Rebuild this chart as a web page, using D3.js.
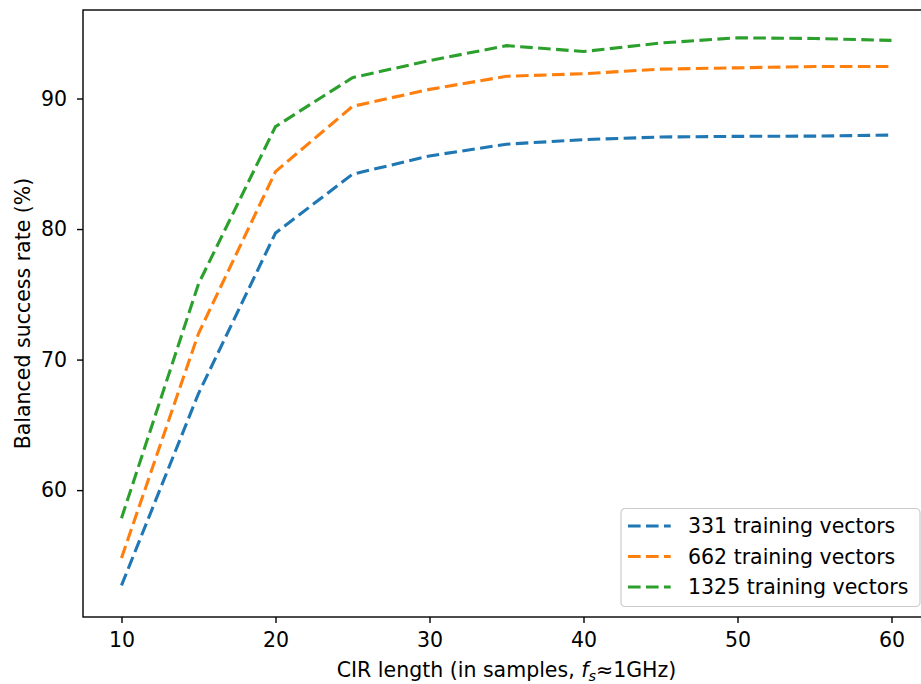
<!DOCTYPE html>
<html>
<head>
<meta charset="utf-8">
<script src="https://cdn.jsdelivr.net/npm/d3@7"></script>
<style>
  html, body { margin: 0; padding: 0; background: #fff; }
  svg text { font-family: "DejaVu Sans", sans-serif; fill: #000; }
</style>
</head>
<body>
<div id="chart"></div>
<script>
const cirLength = [10, 15, 20, 25, 30, 35, 40, 45, 50, 55, 60];
const rate331 = [52.7, 67.4, 79.7, 84.2, 85.6, 86.5, 86.85, 87.05, 87.1, 87.12, 87.2];
const rate662 = [54.8, 72.0, 84.4, 89.4, 90.7, 91.7, 91.9, 92.25, 92.35, 92.45, 92.45];
const rate1325 = [57.85, 75.8, 87.85, 91.6, 92.9, 94.05, 93.6, 94.25, 94.65, 94.6, 94.45];
const seriesNames = ['331 training vectors', '662 training vectors', '1325 training vectors'];
const seriesColors = ['#1f77b4', '#ff7f0e', '#2ca02c'];
const xTicks = [10, 20, 30, 40, 50, 60];
const yTicks = [60, 70, 80, 90];

const W = 921, H = 684;
const plot = { left: 83, right: 930, top: 10, bottom: 617 };
const fontPx = '20.5px';
const dash = '12.6,5.4';
const lineW = 3.1;

const svg = d3.select('#chart').append('svg')
  .attr('width', W)
  .attr('height', H);

const x = d3.scaleLinear().domain([7.5, 62.5]).range([plot.left, plot.right]);
const y = d3.scaleLinear().domain([50.28, 96.78]).range([plot.bottom, plot.top]);

const series = [rate331, rate662, rate1325];

// lines
const line = d3.line()
  .x((d, i) => x(cirLength[i]))
  .y(d => y(d));

svg.append('g')
  .selectAll('path')
  .data(series)
  .enter()
  .append('path')
    .attr('d', d => line(d))
    .attr('fill', 'none')
    .attr('stroke', (d, i) => seriesColors[i])
    .attr('stroke-width', lineW)
    .attr('stroke-dasharray', dash);

// axes
const xAxis = svg.append('g')
  .attr('transform', `translate(0,${plot.bottom})`)
  .call(d3.axisBottom(x).tickValues(xTicks).tickSize(6).tickPadding(9.5).tickFormat(d3.format('d')));
const yAxis = svg.append('g')
  .attr('transform', `translate(${plot.left},0)`)
  .call(d3.axisLeft(y).tickValues(yTicks).tickSize(6).tickPadding(10).tickFormat(d3.format('d')));

[xAxis, yAxis].forEach(ax => {
  ax.select('.domain').remove();
  ax.selectAll('line').attr('stroke', '#000').attr('stroke-width', 1.4);
  ax.selectAll('text')
    .style('font-family', '"DejaVu Sans", sans-serif')
    .style('font-size', fontPx)
    .attr('fill', '#000');
});

// frame
svg.append('rect')
  .attr('x', plot.left)
  .attr('y', plot.top)
  .attr('width', plot.right - plot.left)
  .attr('height', plot.bottom - plot.top)
  .attr('fill', 'none')
  .attr('stroke', '#000')
  .attr('stroke-width', 1.4);

// axis labels
const xLabel = svg.append('text')
  .attr('x', (plot.left + plot.right) / 2)
  .attr('y', 677)
  .attr('text-anchor', 'middle')
  .style('font-size', fontPx);
xLabel.append('tspan').text('CIR length (in samples, ');
xLabel.append('tspan').attr('font-style', 'italic').text('f');
xLabel.append('tspan').attr('font-style', 'italic').style('font-size', '14.5px').attr('dy', 3.5).text('s');
xLabel.append('tspan').attr('dy', -3.5).text('≈1GHz)');

svg.append('text')
  .attr('transform', `translate(30,${(plot.top + plot.bottom) / 2}) rotate(-90)`)
  .attr('text-anchor', 'middle')
  .style('font-size', fontPx)
  .text('Balanced success rate (%)');

// legend
const legend = svg.append('g').attr('transform', 'translate(621,508.5)');
legend.append('rect')
  .attr('width', 299)
  .attr('height', 98)
  .attr('rx', 4)
  .attr('fill', '#fff')
  .attr('fill-opacity', 0.8)
  .attr('stroke', '#cccccc')
  .attr('stroke-width', 1.2);

const items = legend.selectAll('.legend-item')
  .data(seriesNames)
  .enter()
  .append('g')
    .attr('class', 'legend-item')
    .attr('transform', (d, i) => `translate(0,${17.5 + i * 30.5})`);

items.append('line')
  .attr('x1', 7).attr('x2', 49.7)
  .attr('y1', 0).attr('y2', 0)
  .attr('stroke', (d, i) => seriesColors[i])
  .attr('stroke-width', lineW)
  .attr('stroke-dasharray', dash);

items.append('text')
  .attr('x', 67)
  .attr('y', 7)
  .style('font-size', fontPx)
  .text(d => d);
</script>
</body>
</html>
